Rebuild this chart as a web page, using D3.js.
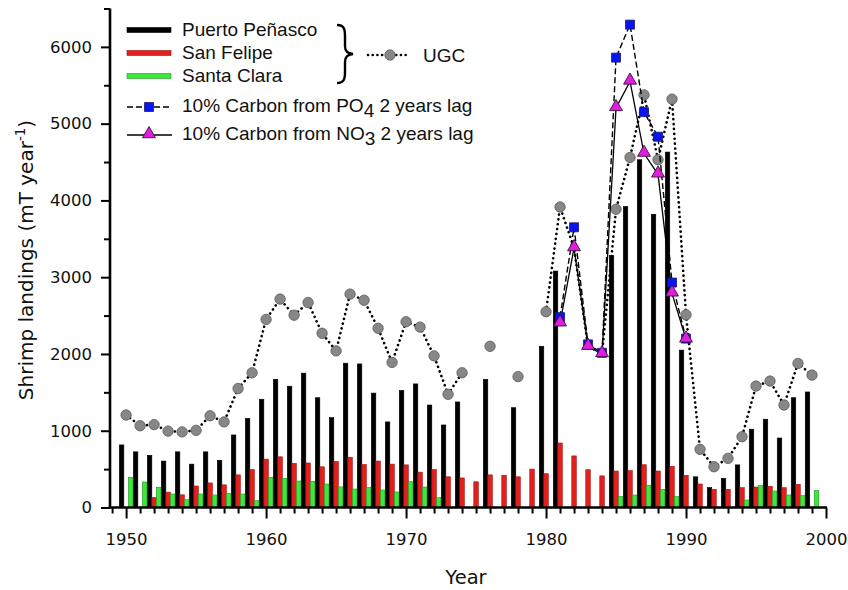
<!DOCTYPE html>
<html lang="en">
  <head>
    <meta charset="UTF-8">
    <title>Shrimp landings</title>
    <script src="https://d3js.org/d3.v7.min.js"></script>
    <style>
      * {
        margin: 0;
        padding: 0;
      }
      body {
        background: #fff;
      }
      body > svg {
        display: block;
      }
    </style>
  </head>
  <body>
    <script>
      // data (null = no value that year)
      var years = [1950, 1951, 1952, 1953, 1954, 1955, 1956, 1957, 1958, 1959,
                   1960, 1961, 1962, 1963, 1964, 1965, 1966, 1967, 1968, 1969,
                   1970, 1971, 1972, 1973, 1974, 1975, 1976, 1977, 1978, 1979,
                   1980, 1981, 1982, 1983, 1984, 1985, 1986, 1987, 1988, 1989,
                   1990, 1991, 1992, 1993, 1994, 1995, 1996, 1997, 1998, 1999];

      var puertoPenasco = [815, 725, 680, 605, 725, 565, 725, 615, 945, 1160,
                           1410, 1670, 1580, 1750, 1430, 1170, 1880, 1870, 1490, 1115,
                           1525, 1610, 1335, 1075, 1375, null, 1670, null, 1300, null,
                           2100, 3080, null, null, null, 3280, 3920, 4530, 3820, 4630,
                           2050, 400, 260, 380, 555, 1020, 1150, 905, 1430, 1505];

      var sanFelipe = [null, null, 130, 200, 165, 280, 320, 295, 425, 495,
                       630, 660, 575, 580, 530, 600, 655, 560, 605, 565,
                       555, 460, 495, 400, 385, 335, 425, 420, 400, 500,
                       440, 840, 672, 492, 412, 475, 480, 557, 475, 536,
                       419, 306, 237, 237, 258, 267, 276, 258, 302, null];

      var santaClara = [393, 332, 263, 176, 102, 176, 163, 185, 176, 89,
                        393, 380, 345, 341, 306, 269, 241, 263, 228, 202,
                        336, 267, 128, null, null, null, null, null, null, null,
                        null, null, null, null, null, 141, 163, 291, 237, 141,
                        null, null, null, null, 98, 284, 215, 163, 154, 219];

      var ugc = [1205, 1065, 1080, 995, 985, 1005, 1195, 1115, 1550, 1755,
                 2450, 2715, 2505, 2670, 2270, 2040, 2780, 2700, 2335, 1890,
                 2420, 2350, 1975, 1475, 1755, null, 2100, null, 1705, null,
                 2550, 3915, 3380, 2100, 2000, 3885, 4560, 5375, 4530, 5320,
                 2510, 758, 531, 640, 922, 1582, 1647, 1335, 1877, 1725];
      // years where the UGC point sits under the model markers (no circle drawn)
      var ugcNoMarker = [1982, 1983, 1984];

      var modelYears = [1981, 1982, 1983, 1984, 1985, 1986, 1987, 1988, 1989, 1990];
      var po4Lag = [2480, 3650, 2125, 2015, 5860, 6290, 5150, 4830, 2930, 2200];
      var no3Lag = [2400, 3380, 2095, 2000, 5205, 5550, 4610, 4340, 2790, 2190];

      var yTicks = [0, 1000, 2000, 3000, 4000, 5000, 6000];
      var xTicks = [1950, 1960, 1970, 1980, 1990, 2000];

      var width = 848, height = 590;

      var svg = d3.select("body").append("svg")
        .attr("width", width)
        .attr("height", height);

      var x = d3.scaleLinear().domain([1948.85, 2000]).range([110, 826]);
      var y = d3.scaleLinear().domain([0, 6500]).range([507.5, 8.5]);
      var sub = d3.scaleBand().domain(["pp", "sf", "sc"]).range([-6.75, 6.75]);

      var seriesBars = [
        { key: "pp", values: puertoPenasco, fill: "#000", stroke: "#000" },
        { key: "sf", values: sanFelipe, fill: "#e41f1c", stroke: "#9e1210" },
        { key: "sc", values: santaClara, fill: "#3ee63e", stroke: "#1c9a1c" }
      ];

      var barsG = svg.append("g");
      seriesBars.forEach(function (s) {
        var rows = years.map(function (yr, i) { return { year: yr, v: s.values[i] }; })
          .filter(function (d) { return d.v != null; });
        barsG.selectAll(null)
          .data(rows)
          .enter().append("rect")
          .attr("x", function (d) { return x(d.year) + sub(s.key); })
          .attr("width", sub.bandwidth())
          .attr("y", function (d) { return y(d.v); })
          .attr("height", function (d) { return y(0) - y(d.v); })
          .attr("fill", s.fill)
          .attr("stroke", s.stroke)
          .attr("stroke-width", 0.6);
      });

      // axes
      var yAxis = d3.axisLeft(y)
        .tickValues(d3.range(0, 6501, 500))
        .tickSize(8)
        .tickFormat(function (d) { return yTicks.indexOf(d) >= 0 ? d : ""; });
      var gy = svg.append("g")
        .attr("transform", "translate(110,0)")
        .call(yAxis);
      gy.select(".domain").attr("stroke-width", 2.6).attr("d", "M0," + y(6500) + "V" + (y(0) + 1));
      gy.selectAll(".tick line")
        .attr("stroke-width", 2)
        .attr("x2", function (d) { return yTicks.indexOf(d) >= 0 ? -9 : -6; });
      gy.selectAll(".tick text")
        .attr("x", -18)
        .attr("font-family", "DejaVu Sans")
        .attr("font-size", "16.5px")
        .attr("fill", "#111");

      var xAxis = d3.axisBottom(x)
        .tickValues(years.concat([1949, 2000]))
        .tickSize(6)
        .tickFormat(function (d) { return xTicks.indexOf(d) >= 0 ? d : ""; });
      var gx = svg.append("g")
        .attr("transform", "translate(0," + y(0) + ")")
        .call(xAxis);
      gx.select(".domain").attr("stroke-width", 2.6).attr("d", "M108.7,0H827");
      gx.selectAll(".tick line")
        .attr("stroke-width", 2)
        .attr("y2", function (d) { return xTicks.indexOf(d) >= 0 ? 11 : 6; });
      gx.selectAll(".tick text")
        .attr("y", 26)
        .attr("font-family", "DejaVu Sans")
        .attr("font-size", "16.5px")
        .attr("fill", "#111");

      // UGC dotted line
      var ugcRows = years.map(function (yr, i) { return { year: yr, v: ugc[i] }; });
      var line = d3.line()
        .defined(function (d) { return d.v != null; })
        .x(function (d) { return x(d.year); })
        .y(function (d) { return y(d.v); });

      svg.append("path")
        .datum(ugcRows)
        .attr("d", line)
        .attr("fill", "none")
        .attr("stroke", "#000")
        .attr("stroke-width", 2.6)
        .attr("stroke-linecap", "round")
        .attr("stroke-dasharray", "0.1,4.8");

      svg.append("g").selectAll("circle")
        .data(ugcRows.filter(function (d) { return d.v != null && ugcNoMarker.indexOf(d.year) < 0; }))
        .enter().append("circle")
        .attr("cx", function (d) { return x(d.year); })
        .attr("cy", function (d) { return y(d.v); })
        .attr("r", 5.2)
        .attr("fill", "#878787")
        .attr("stroke", "#5a5a5a")
        .attr("stroke-width", 0.8);

      var po4Rows = modelYears.map(function (yr, i) { return { year: yr, v: po4Lag[i] }; });
      var no3Rows = modelYears.map(function (yr, i) { return { year: yr, v: no3Lag[i] }; });

      svg.append("path")
        .datum(po4Rows)
        .attr("d", line)
        .attr("fill", "none")
        .attr("stroke", "#000")
        .attr("stroke-width", 1.4)
        .attr("stroke-dasharray", "6,3");

      svg.append("path")
        .datum(no3Rows)
        .attr("d", line)
        .attr("fill", "none")
        .attr("stroke", "#000")
        .attr("stroke-width", 1.3);

      var square = d3.symbol().type(d3.symbolSquare).size(81);
      var triangle = d3.symbol().type(d3.symbolTriangle).size(72);

      svg.append("g").selectAll("path")
        .data(po4Rows)
        .enter().append("path")
        .attr("d", square)
        .attr("transform", function (d) { return "translate(" + x(d.year) + "," + y(d.v) + ")"; })
        .attr("fill", "#0a14f0")
        .attr("stroke", "#1a1a6a")
        .attr("stroke-width", 0.8);

      svg.append("g").selectAll("path")
        .data(no3Rows)
        .enter().append("path")
        .attr("d", triangle)
        .attr("transform", function (d) { return "translate(" + x(d.year) + "," + (y(d.v) - 1) + ")"; })
        .attr("fill", "#e01ee0")
        .attr("stroke", "#3a103a")
        .attr("stroke-width", 0.9);

      // axis titles
      svg.append("text")
        .attr("x", 466)
        .attr("y", 584)
        .attr("text-anchor", "middle")
        .attr("font-family", "DejaVu Sans")
        .attr("font-size", "19.5px")
        .attr("fill", "#111")
        .text("Year");

      var yt = svg.append("text")
        .attr("transform", "translate(33,260) rotate(-90)")
        .attr("text-anchor", "middle")
        .attr("font-family", "DejaVu Sans")
        .attr("font-size", "20px")
        .attr("fill", "#111");
      yt.append("tspan").text("Shrimp landings (mT year");
      yt.append("tspan").attr("dy", -8).attr("font-size", "13.5px").text("-1");
      yt.append("tspan").attr("dy", 8).text(")");

      // legend
      var leg = svg.append("g")
        .attr("font-family", "Liberation Sans, Arial, sans-serif")
        .attr("font-size", "19px")
        .attr("fill", "#111");

      var barLegend = [
        { label: "Puerto Peñasco", fill: "#000", stroke: "#000", yy: 36 },
        { label: "San Felipe", fill: "#e41f1c", stroke: "#9e1210", yy: 59 },
        { label: "Santa Clara", fill: "#3ee63e", stroke: "#1c9a1c", yy: 82 }
      ];
      barLegend.forEach(function (d) {
        leg.append("rect")
          .attr("x", 127).attr("y", d.yy - 8.5)
          .attr("width", 44).attr("height", 5)
          .attr("fill", d.fill).attr("stroke", d.stroke).attr("stroke-width", 0.6);
        leg.append("text").attr("x", 182).attr("y", d.yy).text(d.label);
      });

      leg.append("path")
        .attr("d", "M337,25 C344,25 345,29 345,36 L345,46 C345,51 347,53.5 353,54 C347,54.5 345,57 345,62 L345,72 C345,79 344,83 337,83")
        .attr("fill", "none")
        .attr("stroke", "#000")
        .attr("stroke-width", 2.4);

      leg.append("line")
        .attr("x1", 368).attr("x2", 409).attr("y1", 55).attr("y2", 55)
        .attr("stroke", "#000").attr("stroke-width", 2.6)
        .attr("stroke-linecap", "round").attr("stroke-dasharray", "0.1,4.6");
      leg.append("circle")
        .attr("cx", 390).attr("cy", 55).attr("r", 5.2)
        .attr("fill", "#878787").attr("stroke", "#5a5a5a").attr("stroke-width", 0.8);
      leg.append("text").attr("x", 423).attr("y", 62).text("UGC");

      leg.append("line")
        .attr("x1", 127).attr("x2", 172).attr("y1", 107).attr("y2", 107)
        .attr("stroke", "#000").attr("stroke-width", 1.4).attr("stroke-dasharray", "6,3");
      leg.append("path")
        .attr("d", square)
        .attr("transform", "translate(149,107)")
        .attr("fill", "#0a14f0").attr("stroke", "#1a1a6a").attr("stroke-width", 0.8);
      var t4 = leg.append("text").attr("x", 182).attr("y", 112);
      t4.append("tspan").text("10% Carbon from PO");
      t4.append("tspan").attr("dy", 5).text("4");
      t4.append("tspan").attr("dy", -5).text(" 2 years lag");

      leg.append("line")
        .attr("x1", 127).attr("x2", 172).attr("y1", 135).attr("y2", 135)
        .attr("stroke", "#000").attr("stroke-width", 1.3);
      leg.append("path")
        .attr("d", triangle)
        .attr("transform", "translate(149,134)")
        .attr("fill", "#e01ee0").attr("stroke", "#3a103a").attr("stroke-width", 0.9);
      var t5 = leg.append("text").attr("x", 182).attr("y", 140);
      t5.append("tspan").text("10% Carbon from NO");
      t5.append("tspan").attr("dy", 5).text("3");
      t5.append("tspan").attr("dy", -5).text(" 2 years lag");
    </script>
  </body>
</html>
